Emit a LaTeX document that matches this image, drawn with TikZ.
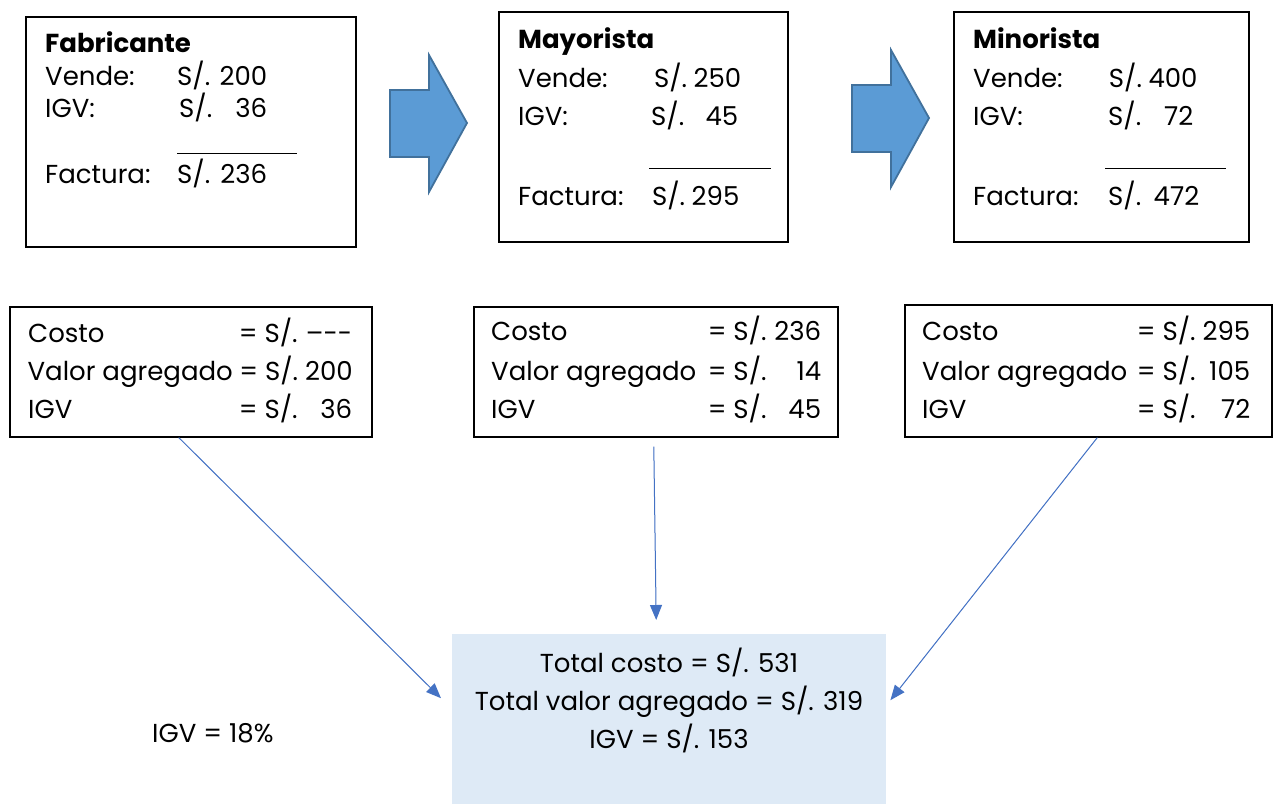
\documentclass[tikz,border=0pt]{standalone}
\usepackage{fontspec}
\setmainfont{Poppins}
\usepackage{tikz}
\usetikzlibrary{positioning,arrows.meta}
\definecolor{azulflecha}{HTML}{5B9BD5}
\definecolor{bordeflecha}{HTML}{41719C}
\definecolor{azullinea}{HTML}{4472C4}
\definecolor{azulfondo}{HTML}{DEEAF6}
\tikzstyle{caja}=[rectangle, draw=black, line width=1.6pt, anchor=north west, inner sep=0pt]
\tikzstyle{total}=[rectangle, fill=azulfondo, anchor=north west, inner sep=0pt]
\tikzstyle{texto}=[anchor=base west, inner sep=0pt, font=\fontsize{26}{32}\selectfont]
\tikzstyle{titulo}=[texto, font=\fontsize{26}{32}\selectfont\bfseries]
\tikzstyle{bloque}=[fill=azulflecha, draw=bordeflecha, line width=1.8pt]
\tikzstyle{flecha}=[-{Triangle[length=15pt,width=12pt]}, draw=azullinea, fill=azullinea, line width=1pt]
\newcommand{\monto}[2]{\makebox[#1]{S/.\hspace{0.25em}\hfill #2}}
\newcommand{\renglon}[3]{\makebox[#1]{#2\hspace{0.25em}\hfill= S/.\makebox[2.1em][r]{#3}}}

\begin{document}
\begin{tikzpicture}[x=1pt, y=-1pt]
	\useasboundingbox (0,0) rectangle (1283,804);

	% cajas de arriba
	\node (Fabricante) [caja, minimum width=330pt, minimum height=230pt] at (25,16) {};
	\node (Mayorista) [caja, minimum width=289pt, minimum height=230pt] at (498,11) {};
	\node (Minorista) [caja, minimum width=295pt, minimum height=230pt] at (953,11) {};

	\node (FabTitulo) [titulo] at (45,52) {Fabricante};
	\node (FabVende) [texto] at (45,85) {Vende:};
	\node (FabVendeM) [texto] at (177,85) {\monto{90pt}{200}};
	\node (FabIGV) [texto] at (45,117) {IGV:};
	\node (FabIGVM) [texto] at (179,117) {\monto{88pt}{36}};
	\node (FabFactura) [texto] at (45,183) {Factura:};
	\node (FabFacturaM) [texto] at (177,183) {\monto{90pt}{236}};
	\draw[line width=1pt] (177,153) -- (297,153);

	\node (MayTitulo) [titulo] at (518,48) {Mayorista};
	\node (MayVende) [texto] at (518,87) {Vende:};
	\node (MayVendeM) [texto] at (657,87) {\monto{81pt}{250}};
	\node (MayIGV) [texto] at (518,125) {IGV:};
	\node (MayIGVM) [texto] at (651,125) {\monto{87pt}{45}};
	\node (MayFactura) [texto] at (518,205) {Factura:};
	\node (MayFacturaM) [texto] at (653,205) {\monto{85pt}{295}};
	\draw[line width=1pt] (649,168) -- (771,168);

	\node (MinTitulo) [titulo] at (973,48) {Minorista};
	\node (MinVende) [texto] at (973,87) {Vende:};
	\node (MinVendeM) [texto] at (1112,87) {\monto{82pt}{400}};
	\node (MinIGV) [texto] at (973,125) {IGV:};
	\node (MinIGVM) [texto] at (1108,125) {\monto{85pt}{72}};
	\node (MinFactura) [texto] at (973,205) {Factura:};
	\node (MinFacturaM) [texto] at (1108,205) {\monto{91pt}{472}};
	\draw[line width=1pt] (1105,168) -- (1226,168);

	% flechas de bloque
	\draw[bloque] (390,90) -- (429,90) -- (429,55) -- (467,123) -- (429,192) -- (429,157) -- (390,157) -- cycle;
	\draw[bloque] (852,85) -- (891,85) -- (891,50) -- (929,118) -- (891,187) -- (891,152) -- (852,152) -- cycle;

	% cajas de abajo
	\node (CostoFab) [caja, minimum width=362pt, minimum height=130pt] at (9,306) {};
	\node (CostoMay) [caja, minimum width=364pt, minimum height=130pt] at (473,306) {};
	\node (CostoMin) [caja, minimum width=367pt, minimum height=132pt] at (904,304) {};

	\node (CostoFab1) [texto] at (28,342) {\renglon{324pt}{Costo}{–{-}{-}}};
	\node (CostoFab2) [texto] at (28,380) {\renglon{324pt}{Valor agregado}{200}};
	\node (CostoFab3) [texto] at (28,418) {\renglon{324pt}{IGV}{36}};

	\node (CostoMay1) [texto] at (491,340) {\renglon{330pt}{Costo}{236}};
	\node (CostoMay2) [texto] at (491,380) {\renglon{330pt}{Valor agregado}{14}};
	\node (CostoMay3) [texto] at (491,418) {\renglon{330pt}{IGV}{45}};

	\node (CostoMin1) [texto] at (922,340) {\renglon{328pt}{Costo}{295}};
	\node (CostoMin2) [texto] at (922,380) {\renglon{328pt}{Valor agregado}{105}};
	\node (CostoMin3) [texto] at (922,418) {\renglon{328pt}{IGV}{72}};

	% total
	\node (Total) [total, minimum width=434pt, minimum height=170pt] at (452,634) {};
	\node (Total1) [texto, anchor=base] at (669,672) {Total costo = S/. 531};
	\node (Total2) [texto, anchor=base] at (669,710) {Total valor agregado = S/. 319};
	\node (Total3) [texto, anchor=base] at (669,748) {IGV = S/. 153};

	\node (Tasa) [texto] at (152,742) {IGV = 18\%};

	\draw[flecha] ([xshift=-12pt]CostoFab.south) -- ([xshift=-11pt,yshift=21pt]Total.west);
	\draw[flecha] ([xshift=-2pt,yshift=-9pt]CostoMay.south) -- ([xshift=-13pt,yshift=14pt]Total.north);
	\draw[flecha] ([xshift=9pt]CostoMin.south) -- ([xshift=4pt,yshift=19pt]Total.east);
\end{tikzpicture}
\end{document}
